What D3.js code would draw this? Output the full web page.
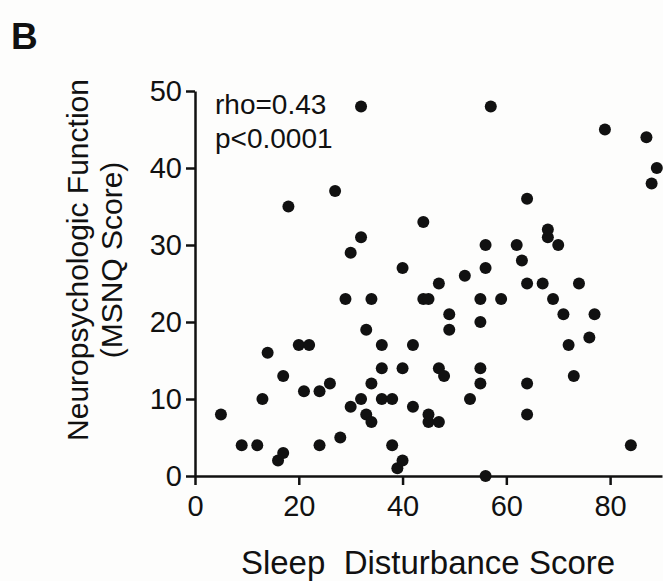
<!DOCTYPE html>
<html>
<head>
<meta charset="utf-8">
<script src="https://cdn.jsdelivr.net/npm/d3@7"></script>
<style>
  html, body { margin: 0; padding: 0; background: #fdfdfc; }
  svg { display: block; }
  text { font-family: "Liberation Sans", Arial, sans-serif; fill: #111; }
</style>
</head>
<body>
<svg id="chart" width="663" height="581"></svg>
<script>
// Sleep Disturbance Score (x) vs MSNQ Score (y)
const sleepScore = [5, 9, 12, 13, 14, 16, 17, 17, 18, 20, 21, 22, 24, 24, 26, 27, 28, 29, 30, 30,
  32, 32, 32, 33, 33, 34, 34, 34, 36, 36, 36, 38, 38, 39, 40, 40, 40, 42, 42, 44,
  44, 45, 45, 45, 47, 47, 47, 48, 49, 49, 52, 53, 55, 55, 55, 55, 56, 56, 56, 57,
  59, 62, 63, 64, 64, 64, 64, 67, 68, 68, 69, 70, 71, 72, 73, 74, 76, 77, 79, 84,
  87, 88, 89];
const msnqScore = [8, 4, 4, 10, 16, 2, 3, 13, 35, 17, 11, 17, 4, 11, 12, 37, 5, 23, 9, 29,
  10, 31, 48, 8, 19, 7, 12, 23, 10, 14, 17, 4, 10, 1, 2, 14, 27, 9, 17, 23,
  33, 7, 8, 23, 7, 14, 25, 13, 19, 21, 26, 10, 12, 14, 20, 23, 0, 27, 30, 48,
  23, 30, 28, 8, 12, 25, 36, 25, 31, 32, 23, 30, 21, 17, 13, 25, 18, 21, 45, 4,
  44, 38, 40];
const xTicks = [0, 20, 40, 60, 80];
const yTicks = [0, 10, 20, 30, 40, 50];
const statLines = ["rho=0.43", "p<0.0001"];

const svg = d3.select("#chart");
const x = d3.scaleLinear().domain([0, 90]).range([195, 662]);
const y = d3.scaleLinear().domain([0, 50]).range([476, 91]);

// axes
const xAxis = svg.append("g").attr("transform", `translate(0,${y(0)})`)
  .call(d3.axisBottom(x).tickValues(xTicks).tickSize(9).tickPadding(10).tickSizeOuter(0));
const yAxis = svg.append("g").attr("transform", `translate(${x(0)},0)`)
  .call(d3.axisLeft(y).tickValues(yTicks).tickSize(9).tickPadding(4).tickSizeOuter(0));
[xAxis, yAxis].forEach(g => {
  g.select(".domain").attr("stroke", "#111").attr("stroke-width", 2.5);
  g.selectAll(".tick line").attr("stroke", "#111").attr("stroke-width", 2.5);
  g.selectAll(".tick text").attr("font-size", 29).attr("fill", "#111")
    .attr("font-family", "Liberation Sans, Arial, sans-serif");
});

// points
svg.append("g").selectAll("circle")
  .data(sleepScore.map((d, i) => [d, msnqScore[i]]))
  .join("circle")
  .attr("cx", d => x(d[0]))
  .attr("cy", d => y(d[1]))
  .attr("r", 6)
  .attr("fill", "#111");

// stats annotation
svg.append("g").selectAll("text").data(statLines).join("text")
  .attr("x", 215).attr("y", (d, i) => 114 + i * 34)
  .attr("font-size", 28).text(d => d);

// axis titles
svg.append("text").attr("x", 428).attr("y", 574).attr("text-anchor", "middle")
  .attr("font-size", 33).style("white-space", "pre").text("Sleep  Disturbance Score");

const yt = svg.append("text").attr("transform", "translate(0,260) rotate(-90)")
  .attr("text-anchor", "middle").attr("font-size", 30);
yt.append("tspan").attr("x", 0).attr("y", 88).text("Neuropsychologic Function");
yt.append("tspan").attr("x", 0).attr("y", 122).text("(MSNQ Score)");

// panel letter
svg.append("text").attr("x", 11).attr("y", 49).attr("font-size", 37)
  .attr("font-weight", "bold").text("B");
</script>
</body>
</html>
